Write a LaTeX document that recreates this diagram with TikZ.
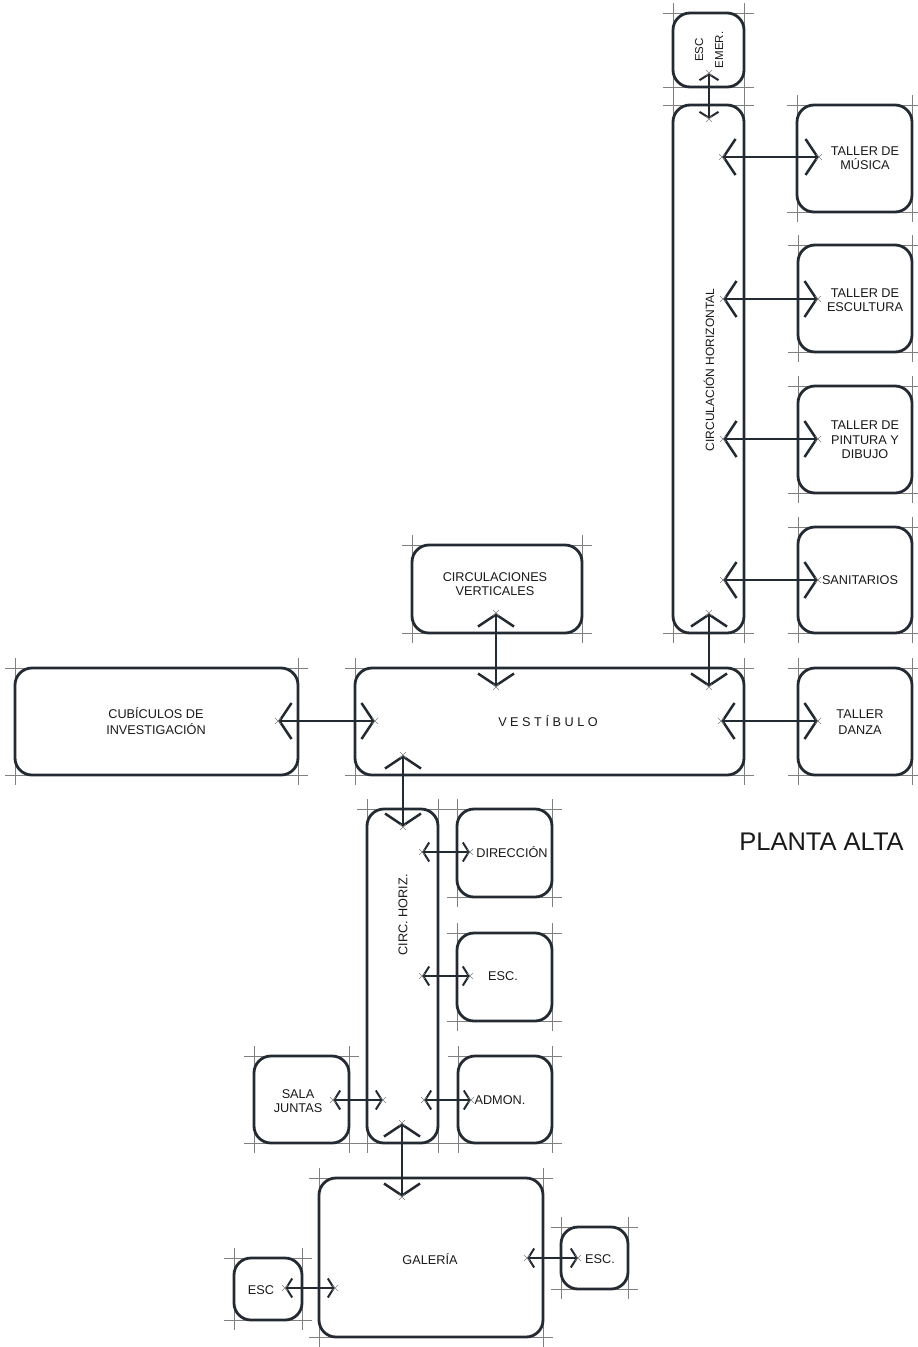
\documentclass[tikz,border=0pt]{standalone}
\usepackage{fontspec}
\setmainfont{Liberation Sans}
\usetikzlibrary{arrows.meta,backgrounds}
\definecolor{ink}{RGB}{36,42,50}
\definecolor{guidegray}{RGB}{128,128,128}
\tikzset{
  room/.style={draw=ink, line width=2.8pt, rounded corners=17pt, inner sep=0pt, outer sep=0pt, rectangle},
  guide/.style={draw=guidegray, line width=0.9pt},
  lbl/.style={inner sep=0pt, align=center, text=black!90, font=\fontsize{12.7}{14.5}\selectfont},
  bigarrow/.style={draw=ink, line width=2.5pt, >={Straight Barb[length=12pt,width=36pt]}, <->},
  smallarrow/.style={draw=ink, line width=2pt, >={Straight Barb[length=6pt,width=19pt]}, <->},
  tick/.style={draw=guidegray, line width=0.45pt}
}
\newcommand\tipmark[1]{\draw[tick] ([shift={(-3pt,-3pt)}]#1) -- ([shift={(3pt,3pt)}]#1) ([shift={(-3pt,3pt)}]#1) -- ([shift={(3pt,-3pt)}]#1);}
\begin{document}
\begin{tikzpicture}[x=1pt,y=-1pt]
\useasboundingbox (0,0) rectangle (918,1347);
% rooms
\node[room, minimum width=71pt, minimum height=74pt] (escemer) at (708.5,50) {};
\node[room, minimum width=71pt, minimum height=528pt] (circh) at (708.5,369) {};
\node[room, minimum width=115pt, minimum height=107pt] (musica) at (854.5,158.5) {};
\node[room, minimum width=114pt, minimum height=107pt] (escultura) at (855,298.5) {};
\node[room, minimum width=114pt, minimum height=107pt] (pintura) at (855,439.5) {};
\node[room, minimum width=114pt, minimum height=106pt] (sanit) at (855,580) {};
\node[room, minimum width=170pt, minimum height=88pt] (circv) at (497,589) {};
\node[room, minimum width=389pt, minimum height=107pt] (vest) at (549.5,721.5) {};
\node[room, minimum width=283pt, minimum height=107pt] (cubic) at (156.5,721.5) {};
\node[room, minimum width=114pt, minimum height=107pt] (danza) at (855,721.5) {};
\node[room, minimum width=71pt, minimum height=334pt] (circhb) at (402.5,976) {};
\node[room, minimum width=95pt, minimum height=88pt] (direc) at (504.5,853) {};
\node[room, minimum width=95pt, minimum height=88pt] (escb) at (504.5,977) {};
\node[room, minimum width=94pt, minimum height=87pt] (admon) at (505,1099.5) {};
\node[room, minimum width=95pt, minimum height=87pt] (sala) at (301.5,1099.5) {};
\node[room, minimum width=224pt, minimum height=159pt] (galeria) at (431,1257.5) {};
\node[room, minimum width=68pt, minimum height=62pt] (escl) at (268,1289) {};
\node[room, minimum width=67pt, minimum height=62pt] (escr) at (594.5,1258) {};
% construction guides
\begin{scope}[on background layer]
\foreach \n in {escemer,circh,musica,escultura,pintura,sanit,circv,vest,cubic,danza,circhb,direc,escb,admon,sala,galeria,escl,escr}{
  \draw[guide] ([xshift=-10pt]\n.north west) -- ([xshift=10pt]\n.north east);
  \draw[guide] ([xshift=-10pt]\n.south west) -- ([xshift=10pt]\n.south east);
  \draw[guide] ([yshift=10pt]\n.north west) -- ([yshift=-10pt]\n.south west);
  \draw[guide] ([yshift=10pt]\n.north east) -- ([yshift=-10pt]\n.south east);
}
\end{scope}
% labels
\node[lbl, rotate=90, font=\fontsize{11.5}{20}\selectfont] (tescemer) at (709,50) {ESC\\EMER.};
\node[lbl, rotate=90, font=\fontsize{12}{14}\selectfont] (tcirch) at (709,370) {CIRCULACIÓN HORIZONTAL};
\node[lbl] (tmusica) at (865,158) {TALLER DE\\MÚSICA};
\node[lbl] (tescultura) at (865,300) {TALLER DE\\ESCULTURA};
\node[lbl] (tpintura) at (865,440) {TALLER DE\\PINTURA Y\\DIBUJO};
\node[lbl] (tsanit) at (860,580) {SANITARIOS};
\node[lbl] (tcircv) at (495,584) {CIRCULACIONES\\VERTICALES};
\node[lbl] (tvest) at (548,721) {V E S T Í B U L O};
\node[lbl, font=\fontsize{12.7}{16.5}\selectfont] (tcubic) at (156,721) {CUBÍCULOS DE\\INVESTIGACIÓN};
\node[lbl, font=\fontsize{12.7}{16}\selectfont] (tdanza) at (860,722) {TALLER\\DANZA};
\node[lbl, rotate=90] (tcirchb) at (403,915) {CIRC. HORIZ.};
\node[lbl] (tdirec) at (512,852) {DIRECCIÓN};
\node[lbl] (tescb) at (503,976) {ESC.};
\node[lbl] (tadmon) at (500,1100) {ADMON.};
\node[lbl, font=\fontsize{12.7}{13.5}\selectfont] (tsala) at (298,1101) {SALA\\JUNTAS};
\node[lbl] (tgaleria) at (430,1259) {GALERÍA};
\node[lbl] (tescl) at (261,1290) {ESC};
\node[lbl] (tescr) at (600,1259) {ESC.};
\node[lbl, font=\fontsize{25.5}{28}\selectfont] (tplanta) at (821.5,842) {PLANTA ALTA};
% arrow end points
\coordinate (a1a) at (709,73);   \coordinate (a1b) at (709,119);
\coordinate (a2a) at (722,157);  \coordinate (a2b) at (819,157);
\coordinate (a3a) at (723,299);  \coordinate (a3b) at (818,299);
\coordinate (a4a) at (723,439);  \coordinate (a4b) at (818,439);
\coordinate (a5a) at (723,580);  \coordinate (a5b) at (818,580);
\coordinate (a6a) at (496,613);  \coordinate (a6b) at (496,687);
\coordinate (a7a) at (709,613);  \coordinate (a7b) at (709,687);
\coordinate (a8a) at (278,721);  \coordinate (a8b) at (375,721);
\coordinate (a9a) at (721,721);  \coordinate (a9b) at (818,721);
\coordinate (a10a) at (403,755); \coordinate (a10b) at (403,827);
\coordinate (a11a) at (422,852); \coordinate (a11b) at (470,852);
\coordinate (a12a) at (422,976); \coordinate (a12b) at (470,976);
\coordinate (a13a) at (424,1100);\coordinate (a13b) at (471,1100);
\coordinate (a14a) at (333,1100);\coordinate (a14b) at (383,1100);
\coordinate (a15a) at (402,1123);\coordinate (a15b) at (402,1197);
\coordinate (a16a) at (527,1258);\coordinate (a16b) at (578,1258);
\coordinate (a17a) at (285,1288);\coordinate (a17b) at (335,1288);
% connectors
\foreach \i in {2,3,4,5,6,7,8,9,10,15}{ \draw[bigarrow] (a\i a) -- (a\i b); }
\foreach \i in {1,11,12,13,14,16,17}{ \draw[smallarrow] (a\i a) -- (a\i b); }
\foreach \i in {1,...,17}{ \tipmark{a\i a} \tipmark{a\i b} }
\end{tikzpicture}
\end{document}
